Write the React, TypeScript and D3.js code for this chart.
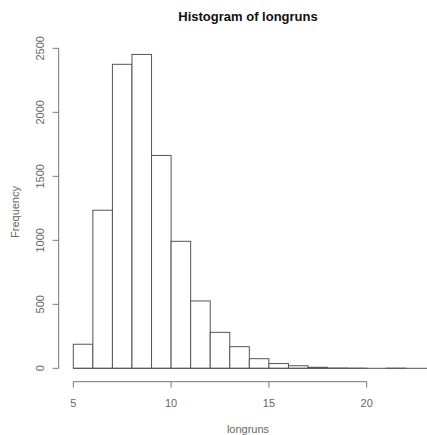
import React from "react";
import * as d3 from "d3";

const binStarts = [5, 6, 7, 8, 9, 10, 11, 12, 13, 14, 15, 16, 17, 18, 19, 20, 21, 22, 23, 24];
const counts = [188, 1235, 2375, 2452, 1663, 992, 526, 281, 169, 75, 37, 20, 8, 2, 1, 0, 1, 0, 0, 1];
const xTicks = [5, 10, 15, 20];
const yTicks = [0, 500, 1000, 1500, 2000, 2500];
const title = "Histogram of longruns";
const xLabel = "longruns";
const yLabel = "Frequency";

export default function App() {
  const W = 427, H = 435;
  const x = d3.scaleLinear().domain([5, 20]).range([73.3, 366.7]);
  const y = d3.scaleLinear().domain([0, 2500]).range([368.3, 48.3]);
  const font = "'Liberation Sans', Arial, sans-serif";
  const axisColor = "#777";
  const barColor = "#555";
  return (
    <svg width={W} height={H} style={{ position: "absolute", left: 0, top: 0, background: "#fff" }}>
      <rect x={0} y={0} width={W} height={H} fill="#fff" />
      <text x={248} y={21} textAnchor="middle" fontFamily={font} fontWeight="bold" fontSize={13} fill="#111">{title}</text>
      {binStarts.map((b, i) => (
        <rect key={b} x={x(b)} y={y(counts[i])} width={x(b + 1) - x(b)} height={Math.max(0, y(0) - y(counts[i]))}
          fill="#fff" stroke={barColor} strokeWidth={1} />
      ))}
      <line x1={x(binStarts[0])} x2={x(binStarts[binStarts.length - 1] + 1)} y1={y(0)} y2={y(0)} stroke={barColor} />
      {/* y axis */}
      <line x1={58.7} x2={58.7} y1={y(0)} y2={y(2500)} stroke={axisColor} />
      {yTicks.map(t => (
        <g key={t}>
          <line x1={52.7} x2={58.7} y1={y(t)} y2={y(t)} stroke={axisColor} />
          <text transform={`translate(${44},${y(t)}) rotate(-90)`} textAnchor="middle" fontFamily={font} fontSize={11} fill="#666">{t}</text>
        </g>
      ))}
      {/* x axis */}
      <line x1={x(5)} x2={x(20)} y1={381.7} y2={381.7} stroke={axisColor} />
      {xTicks.map(t => (
        <g key={t}>
          <line x1={x(t)} x2={x(t)} y1={381.7} y2={387.7} stroke={axisColor} />
          <text x={x(t)} y={407} textAnchor="middle" fontFamily={font} fontSize={11} fill="#666">{t}</text>
        </g>
      ))}
      <text x={248} y={433} textAnchor="middle" fontFamily={font} fontSize={11} fill="#666">{xLabel}</text>
      <text transform={`translate(${19},${212}) rotate(-90)`} textAnchor="middle" fontFamily={font} fontSize={11} fill="#666">{yLabel}</text>
    </svg>
  );
}
